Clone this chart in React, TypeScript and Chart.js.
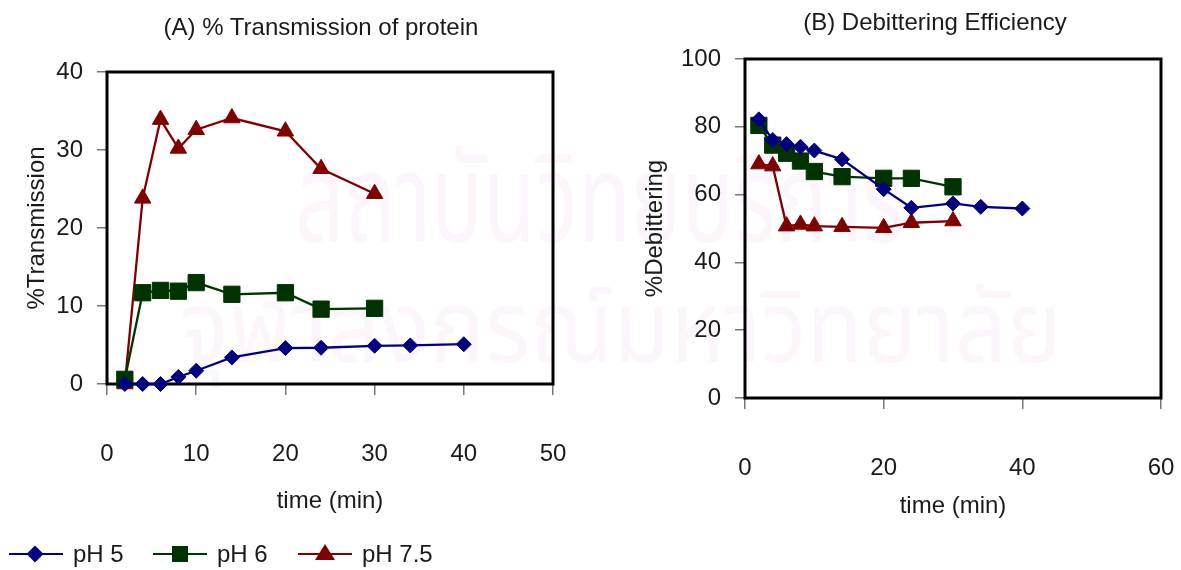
import React, { useEffect, useRef } from "react";
import { Chart, registerables } from "chart.js";

Chart.register(...registerables);

// Sampling times (min)
const timesLong = [2, 4, 6, 8, 10, 14, 20, 24, 30, 34, 40];
const timesShort = [2, 4, 6, 8, 10, 14, 20, 24, 30];

// (A) % Transmission of protein
const transPH5 = [0, 0, 0, 0.9, 1.7, 3.4, 4.6, 4.65, 4.9, 4.95, 5.1];
const transPH6 = [0.6, 11.7, 12.0, 11.9, 13.0, 11.5, 11.7, 9.6, 9.7];
const transPH75 = [0, 23.8, 33.9, 30.2, 32.6, 34.1, 32.4, 27.6, 24.4];

// (B) Debittering efficiency
const debitPH5 = [82.2, 76.1, 74.9, 74.1, 73.0, 70.4, 61.6, 56.1, 57.4, 56.4, 55.9];
const debitPH6 = [80.4, 74.6, 72.2, 69.9, 66.8, 65.3, 64.8, 64.8, 62.3];
const debitPH75 = [69.0, 68.4, 50.7, 51.2, 50.7, 50.5, 50.2, 51.7, 52.2];

const seriesLabels = ["pH 5", "pH 6", "pH 7.5"];
const seriesColors = ["#000080", "#003300", "#800000"];

const FONT = "'Liberation Sans', Arial, Helvetica, sans-serif";
const THAI_FONT = "'Noto Sans Thai', 'Noto Sans', 'DejaVu Sans', sans-serif";
const TEXT = "#1a1a1a";

// Black box around the plotting area
const framePlugin = {
  id: "plotFrame",
  beforeDatasetsDraw(chart: any) {
    const { ctx, chartArea } = chart;
    const { left, top, right, bottom } = chartArea;
    ctx.save();
    ctx.strokeStyle = "#000";
    ctx.lineWidth = 3;
    ctx.strokeRect(left, top, right - left, bottom - top);
    ctx.restore();
  },
};

function pts(xs: number[], ys: number[]) {
  return ys.map((y, i) => ({ x: xs[i], y }));
}

function series(label: string, color: string, style: string, radius: number, data: any[]) {
  return {
    label,
    data,
    borderColor: color,
    backgroundColor: color,
    borderWidth: 2.3,
    pointStyle: style,
    pointRadius: radius,
    pointHoverRadius: radius,
    pointBorderWidth: 1,
    pointBackgroundColor: color,
    pointBorderColor: color,
    tension: 0,
    clip: false,
  };
}

function buildConfig(o: {
  datasets: any[];
  xMax: number;
  xStep: number;
  yMax: number;
  yStep: number;
  yTitle: string;
  yTitlePad: number;
  yWidth: number;
  xHeight: number;
  padding: { top: number; right: number; bottom: number; left: number };
}): any {
  const tickFont = { family: FONT, size: 24 };
  return {
    type: "line",
    data: { datasets: o.datasets },
    plugins: [framePlugin],
    options: {
      animation: false,
      responsive: false,
      events: [],
      layout: { padding: o.padding },
      plugins: {
        legend: { display: false },
        title: { display: false },
        tooltip: { enabled: false },
      },
      scales: {
        x: {
          type: "linear",
          min: 0,
          max: o.xMax,
          afterFit: (s: any) => {
            s.height = o.xHeight;
            s.paddingLeft = 0;
            s.paddingRight = 0;
          },
          ticks: { stepSize: o.xStep, font: tickFont, color: TEXT, padding: 45, maxRotation: 0 },
          grid: {
            drawOnChartArea: false,
            drawTicks: true,
            tickLength: 11,
            color: "#777",
            lineWidth: 1.5,
          },
          border: { display: false },
          title: {
            display: true,
            text: "time (min)",
            font: tickFont,
            color: TEXT,
            padding: { top: 4.6, bottom: 4.6 },
          },
        },
        y: {
          type: "linear",
          min: 0,
          max: o.yMax,
          afterFit: (s: any) => {
            s.width = o.yWidth;
          },
          ticks: { stepSize: o.yStep, font: tickFont, color: TEXT, padding: 14 },
          grid: {
            drawOnChartArea: false,
            drawTicks: true,
            tickLength: 10,
            color: "#777",
            lineWidth: 1.5,
          },
          border: { display: false },
          title: {
            display: true,
            text: o.yTitle,
            font: tickFont,
            color: TEXT,
            padding: { top: o.yTitlePad, bottom: 0 },
          },
        },
      },
    },
  };
}

const LegendMark = ({ shape, color }: { shape: string; color: string }) => {
  let mark: React.ReactNode = null;
  if (shape === "diamond") {
    mark = (
      <div
        style={{
          position: "absolute",
          left: 20,
          top: -6,
          width: 12,
          height: 12,
          background: color,
          transform: "rotate(45deg)",
        }}
      />
    );
  } else if (shape === "square") {
    mark = (
      <div style={{ position: "absolute", left: 19, top: -8, width: 16, height: 16, background: color }} />
    );
  } else {
    mark = (
      <div
        style={{
          position: "absolute",
          left: 17,
          top: -10,
          width: 0,
          height: 0,
          borderLeft: "10px solid transparent",
          borderRight: "10px solid transparent",
          borderBottom: `16px solid ${color}`,
        }}
      />
    );
  }
  return (
    <div style={{ position: "relative", width: 54, height: 0 }}>
      <div style={{ position: "absolute", left: 0, top: -1, width: 54, height: 2, background: color }} />
      {mark}
    </div>
  );
};

export default function App() {
  const refA = useRef<HTMLCanvasElement>(null);
  const refB = useRef<HTMLCanvasElement>(null);

  useEffect(() => {
    const cfgA = buildConfig({
      datasets: [
        series(seriesLabels[0], seriesColors[0], "rectRot", 7.5, pts(timesLong, transPH5)),
        series(seriesLabels[1], seriesColors[1], "rect", 11.5, pts(timesShort, transPH6)),
        series(seriesLabels[2], seriesColors[2], "triangle", 9.5, pts(timesShort, transPH75)),
      ],
      xMax: 50,
      xStep: 10,
      yMax: 40,
      yStep: 10,
      yTitle: "%Transmission",
      yTitlePad: 22.6,
      yWidth: 107,
      xHeight: 136,
      padding: { top: 72, right: 47, bottom: 50, left: 0 },
    });
    const cfgB = buildConfig({
      datasets: [
        series(seriesLabels[0], seriesColors[0], "rectRot", 7.5, pts(timesLong, debitPH5)),
        series(seriesLabels[1], seriesColors[1], "rect", 11.5, pts(timesShort, debitPH6)),
        series(seriesLabels[2], seriesColors[2], "triangle", 9.5, pts(timesShort, debitPH75)),
      ],
      xMax: 60,
      xStep: 20,
      yMax: 100,
      yStep: 20,
      yTitle: "%Debittering",
      yTitlePad: 40.6,
      yWidth: 145,
      xHeight: 127,
      padding: { top: 59, right: 20, bottom: 45, left: 0 },
    });
    const a = new Chart(refA.current!, cfgA);
    const b = new Chart(refB.current!, cfgB);
    return () => {
      a.destroy();
      b.destroy();
    };
  }, []);

  const titleStyle: React.CSSProperties = {
    position: "absolute",
    transform: "translate(-50%, -50%)",
    fontFamily: FONT,
    fontSize: 24,
    color: TEXT,
    whiteSpace: "nowrap",
  };
  const sealStyle: React.CSSProperties = {
    position: "absolute",
    fontFamily: THAI_FONT,
    color: "#fdf5fc",
    whiteSpace: "nowrap",
    transformOrigin: "left top",
  };
  const shapes = ["diamond", "square", "triangle"];
  const legendX = [9, 153, 298];

  return (
    <div
      style={{
        position: "absolute",
        left: 0,
        top: 0,
        width: 1181,
        height: 570,
        background: "#fff",
        overflow: "hidden",
      }}
    >
      {/* faint background seal text */}
      <div
        style={{
          ...sealStyle,
          left: 295,
          top: 137,
          fontSize: 123,
          lineHeight: "134px",
          transform: "scaleX(0.7)",
        }}
      >
        สถาบันวิทยบริการ
      </div>
      <div
        style={{
          ...sealStyle,
          left: 180,
          top: 277,
          fontSize: 100,
          lineHeight: "109px",
          transform: "scaleX(0.92)",
        }}
      >
        จุฬาลงกรณ์มหาวิทยาลัย
      </div>

      <canvas
        ref={refA}
        width={600}
        height={570}
        style={{ position: "absolute", left: 0, top: 0, width: 600, height: 570 }}
      />
      <canvas
        ref={refB}
        width={581}
        height={570}
        style={{ position: "absolute", left: 600, top: 0, width: 581, height: 570 }}
      />

      <div style={{ ...titleStyle, left: 321, top: 27 }}>(A) % Transmission of protein</div>
      <div style={{ ...titleStyle, left: 935, top: 22 }}>(B) Debittering Efficiency</div>

      {seriesLabels.map((lab, i) => (
        <div
          key={lab}
          style={{
            position: "absolute",
            left: legendX[i],
            top: 554,
            display: "flex",
            alignItems: "center",
            height: 0,
          }}
        >
          <LegendMark shape={shapes[i]} color={seriesColors[i]} />
          <span
            style={{
              marginLeft: 10,
              fontFamily: FONT,
              fontSize: 24,
              color: TEXT,
              lineHeight: "28px",
              whiteSpace: "nowrap",
            }}
          >
            {lab}
          </span>
        </div>
      ))}
    </div>
  );
}
